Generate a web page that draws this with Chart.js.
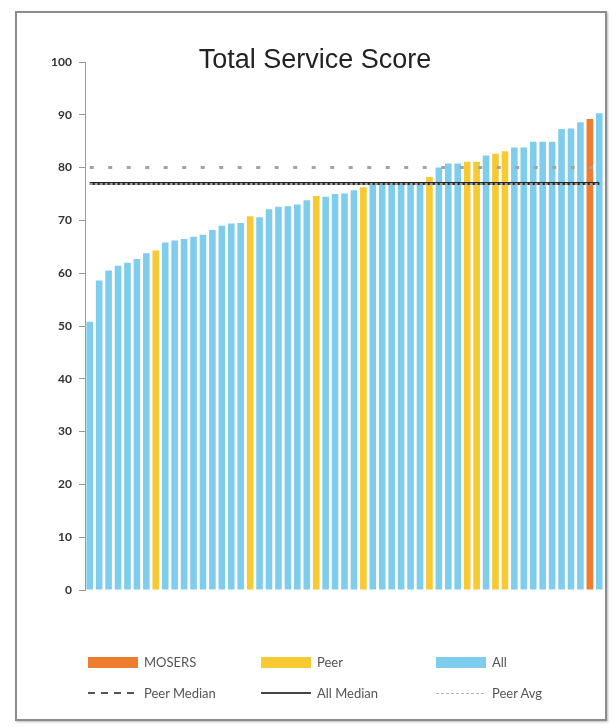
<!DOCTYPE html>
<html>
<head>
<meta charset="utf-8">
<title>Total Service Score</title>
<script src="https://cdn.jsdelivr.net/npm/chart.js@4/dist/chart.umd.min.js"></script>
<style>
  html, body { margin: 0; padding: 0; background: #fff; }
  #wrap { position: relative; width: 613px; height: 727px; overflow: hidden; }
  #frame { position: absolute; left: 15px; top: 11px; width: 588px; height: 706px;
           border: 2px solid #8c8c8c; box-shadow: 1px 1px 2px #bbb; }
  #box { position: absolute; left: 0; top: 0; width: 613px; height: 727px; }
  #legend { position: absolute; left: 88px; top: 654px; display: grid;
            grid-template-columns: 173px 175px 150px; row-gap: 15px;
            font: 13px Lato, "Liberation Sans", sans-serif; color: #555; }
  .item { display: flex; align-items: center; height: 16px; white-space: nowrap; }
  .sw { width: 50px; height: 11px; margin-right: 6px; }
  .ln { width: 50px; margin-right: 6px; }
</style>
</head>
<body>
<div id="wrap">
  <div id="frame"></div>
  <div id="box"><canvas id="chart"></canvas></div>
  <div id="legend"></div>
</div>
<script>
// Total Service Score - sorted scores, one bar per plan
var chartTitle = 'Total Service Score';

var scores = [50.8, 58.6, 60.5, 61.4, 62.0, 62.7, 63.8, 64.3, 65.8, 66.2,
              66.5, 66.9, 67.3, 68.2, 69.0, 69.4, 69.5, 70.8, 70.6, 72.1,
              72.6, 72.7, 73.0, 73.8, 74.6, 74.5, 75.0, 75.1, 75.7, 76.3,
              76.7, 76.8, 76.9, 77.0, 77.1, 77.2, 78.2, 80.0, 80.8, 80.8,
              81.1, 81.1, 82.3, 82.6, 83.1, 83.8, 83.8, 84.9, 84.9, 84.9,
              87.3, 87.4, 88.6, 89.2, 90.3];

// A = All, P = Peer, M = MOSERS
var groups = ['A','A','A','A','A','A','A','P','A','A',
              'A','A','A','A','A','A','A','P','A','A',
              'A','A','A','A','P','A','A','A','A','P',
              'A','A','A','A','A','A','P','A','A','A',
              'P','P','A','P','P','A','A','A','A','A',
              'A','A','A','M','A'];

var peerMedian = 80;
var allMedian = 77;
var peerAvg = 76.9;

var yTicks = [0, 10, 20, 30, 40, 50, 60, 70, 80, 90, 100];

var categories = scores.map(function (v, i) { return 'Plan ' + (i + 1); });

function pick(code) {
  return scores.map(function (v, i) { return groups[i] === code ? v : null; });
}
function flat(v) {
  return categories.map(function () { return v; });
}

var barOpts = { grouped: false, barPercentage: 0.7, categoryPercentage: 1, borderWidth: 0, order: 1 };

var datasets = [
  Object.assign({ label: 'MOSERS', data: pick('M'), backgroundColor: '#ee7d2f' }, barOpts),
  Object.assign({ label: 'Peer', data: pick('P'), backgroundColor: '#f7c933' }, barOpts),
  Object.assign({ label: 'All', data: pick('A'), backgroundColor: '#7fcdec' }, barOpts),
  { type: 'line', label: 'Peer Median', data: flat(peerMedian), borderColor: '#a3a3a3',
    borderWidth: 3, borderDash: [4, 14.5], pointRadius: 0, order: 0 },
  { type: 'line', label: 'All Median', data: flat(allMedian), borderColor: '#262626',
    borderWidth: 3, pointRadius: 0, order: 0 },
  { type: 'line', label: 'Peer Avg', data: flat(peerAvg), borderColor: '#c8c8c8',
    borderWidth: 1.5, borderDash: [3, 2], pointRadius: 0, order: -1 }
];

var titlePlugin = {
  id: 'overlayTitle',
  afterDraw: function (chart) {
    var ctx = chart.ctx;
    ctx.save();
    ctx.font = '27px "Liberation Sans", Arial, sans-serif';
    ctx.fillStyle = '#222';
    ctx.textAlign = 'center';
    ctx.textBaseline = 'middle';
    ctx.fillText(chartTitle, 315, chart.chartArea.top - 1);
    ctx.restore();
  }
};

var ctx = document.getElementById('chart').getContext('2d');
var myChart = new Chart(ctx, {
  type: 'bar',
  data: { labels: categories, datasets: datasets },
  options: {
    responsive: true,
    maintainAspectRatio: false,
    animation: false,
    layout: { padding: { left: 48, top: 62, right: 9, bottom: 137 } },
    plugins: { legend: { display: false }, tooltip: { enabled: false }, title: { display: false } },
    scales: {
      x: { display: false },
      y: {
        min: 0, max: 100,
        afterBuildTicks: function (s) { s.ticks = yTicks.map(function (v) { return { value: v }; }); },
        afterFit: function (s) { s.width = 37; },
        ticks: { color: '#333', padding: 7, font: { family: 'Lato', size: 12, weight: 'bold' } },
        grid: { drawOnChartArea: false, tickLength: 6, color: '#999' },
        border: { color: '#999', width: 1 }
      }
    }
  },
  plugins: [titlePlugin]
});

// legend, 3 columns like the original
var legend = document.getElementById('legend');
myChart.data.datasets.forEach(function (ds) {
  var item = document.createElement('div');
  item.className = 'item';
  var sw = document.createElement('span');
  if (ds.type === 'line') {
    sw.className = 'ln';
    if (ds.label === 'Peer Median') {
      sw.style.height = '2px';
      sw.style.background = 'repeating-linear-gradient(to right, #555 0 7px, transparent 7px 13px)';
    } else if (ds.label === 'All Median') {
      sw.style.height = '2px';
      sw.style.background = '#444';
    } else {
      sw.style.height = '1px';
      sw.style.background = 'repeating-linear-gradient(to right, #b5b5b5 0 3px, transparent 3px 5px)';
    }
  } else {
    sw.className = 'sw';
    sw.style.background = ds.backgroundColor;
  }
  item.appendChild(sw);
  var t = document.createElement('span');
  t.textContent = ds.label;
  item.appendChild(t);
  legend.appendChild(item);
});
</script>
</body>
</html>
